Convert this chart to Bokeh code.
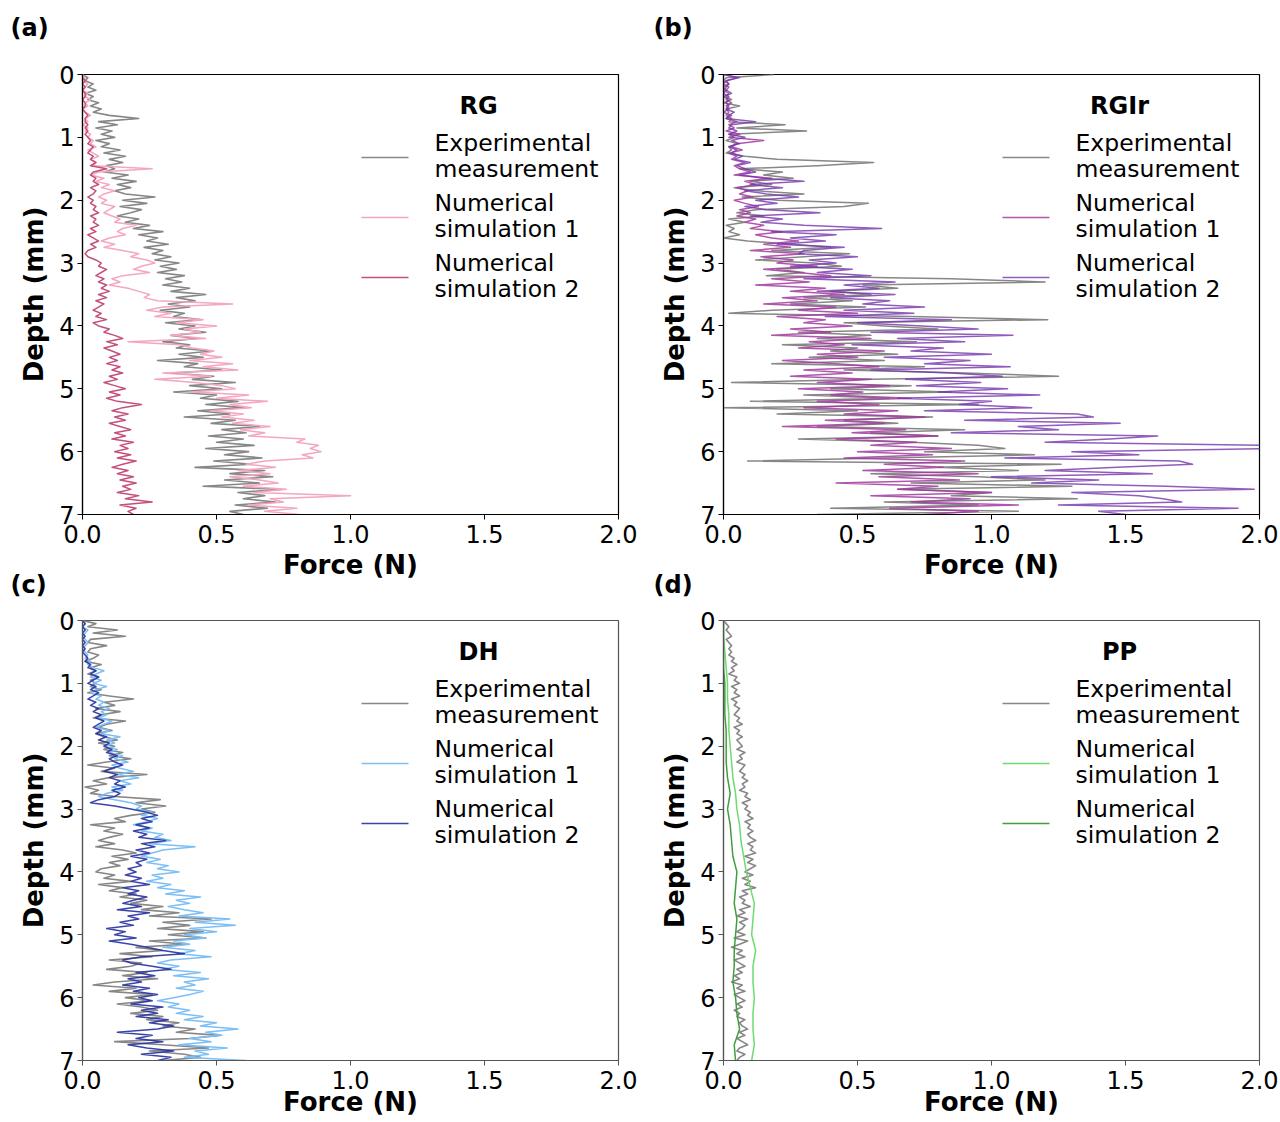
from bokeh.plotting import figure
from bokeh.models import Range1d, FixedTicker, NumeralTickFormatter, Label, Arrow, Title
from bokeh.layouts import column, row
from bokeh.embed import file_html
from bokeh.resources import INLINE

FONT = "DejaVu Sans"

# ---------------- data ----------------
depth = [
    0.00, 0.05, 0.10, 0.15, 0.20, 0.25, 0.30, 0.35, 0.40, 0.45,
    0.50, 0.55, 0.60, 0.65, 0.70, 0.75, 0.80, 0.85, 0.90, 0.95,
    1.00, 1.05, 1.10, 1.15, 1.20, 1.25, 1.30, 1.35, 1.40, 1.45,
    1.50, 1.55, 1.60, 1.65, 1.70, 1.75, 1.80, 1.85, 1.90, 1.95,
    2.00, 2.05, 2.10, 2.15, 2.20, 2.25, 2.30, 2.35, 2.40, 2.45,
    2.50, 2.55, 2.60, 2.65, 2.70, 2.75, 2.80, 2.85, 2.90, 2.95,
    3.00, 3.05, 3.10, 3.15, 3.20, 3.25, 3.30, 3.35, 3.40, 3.45,
    3.50, 3.55, 3.60, 3.65, 3.70, 3.75, 3.80, 3.85, 3.90, 3.95,
    4.00, 4.05, 4.10, 4.15, 4.20, 4.25, 4.30, 4.35, 4.40, 4.45,
    4.50, 4.55, 4.60, 4.65, 4.70, 4.75, 4.80, 4.85, 4.90, 4.95,
    5.00, 5.05, 5.10, 5.15, 5.20, 5.25, 5.30, 5.35, 5.40, 5.45,
    5.50, 5.55, 5.60, 5.65, 5.70, 5.75, 5.80, 5.85, 5.90, 5.95,
    6.00, 6.05, 6.10, 6.15, 6.20, 6.25, 6.30, 6.35, 6.40, 6.45,
    6.50, 6.55, 6.60, 6.65, 6.70, 6.75, 6.80, 6.85, 6.90, 6.95,
    7.00,
]
depth_coarse = [
    0.00, 0.25, 0.50, 0.75, 1.00, 1.25, 1.50, 1.75, 2.00, 2.25,
    2.50, 2.75, 3.00, 3.25, 3.50, 3.75, 4.00, 4.25, 4.50, 4.75,
    5.00, 5.25, 5.50, 5.75, 6.00, 6.25, 6.50, 6.75, 7.00,
]

# (a) RG
rg_exp = [
    0.00, 0.02, 0.01, 0.04, 0.02, 0.05, 0.01, 0.04, 0.02, 0.06,
    0.03, 0.07, 0.04, 0.10, 0.21, 0.06, 0.13, 0.05, 0.11, 0.07,
    0.12, 0.05, 0.10, 0.07, 0.14, 0.08, 0.16, 0.10, 0.15, 0.09,
    0.12, 0.08, 0.17, 0.11, 0.20, 0.13, 0.18, 0.12, 0.16, 0.27,
    0.15, 0.24, 0.14, 0.22, 0.18, 0.13, 0.21, 0.16, 0.25, 0.19,
    0.30, 0.21, 0.28, 0.24, 0.32, 0.23, 0.30, 0.26, 0.33, 0.27,
    0.36, 0.29, 0.35, 0.28, 0.38, 0.31, 0.37, 0.30, 0.40, 0.33,
    0.46, 0.35, 0.42, 0.32, 0.40, 0.29, 0.38, 0.34, 0.44, 0.31,
    0.42, 0.36, 0.46, 0.33, 0.43, 0.30, 0.40, 0.35, 0.48, 0.36,
    0.45, 0.28, 0.43, 0.38, 0.52, 0.33, 0.49, 0.41, 0.57, 0.40,
    0.52, 0.34, 0.50, 0.44, 0.58, 0.46, 0.60, 0.43, 0.55, 0.38,
    0.57, 0.48, 0.66, 0.52, 0.61, 0.47, 0.60, 0.50, 0.64, 0.46,
    0.62, 0.53, 0.67, 0.49, 0.63, 0.42, 0.68, 0.55, 0.71, 0.53,
    0.66, 0.45, 0.74, 0.58, 0.68, 0.60, 0.72, 0.57, 0.69, 0.55,
    0.60,
]
rg_sim1 = [
    0.00, 0.01, 0.00, 0.02, 0.01, 0.00, 0.02, 0.01, 0.03, 0.01,
    0.02, 0.00, 0.01, 0.03, 0.01, 0.02, 0.00, 0.02, 0.01, 0.03,
    0.02, 0.04, 0.03, 0.05, 0.02, 0.04, 0.06, 0.03, 0.05, 0.04,
    0.26, 0.06, 0.03, 0.08, 0.05, 0.10, 0.07, 0.12, 0.08, 0.06,
    0.09, 0.07, 0.12, 0.10, 0.08, 0.11, 0.14, 0.12, 0.20, 0.15,
    0.13, 0.16, 0.10, 0.07, 0.12, 0.08, 0.15, 0.21, 0.18, 0.24,
    0.27, 0.22, 0.19, 0.25, 0.15, 0.11, 0.14, 0.10, 0.17, 0.21,
    0.25, 0.23, 0.28, 0.56, 0.30, 0.24, 0.33, 0.27, 0.45, 0.35,
    0.50, 0.38, 0.44, 0.33, 0.46, 0.17, 0.36, 0.41, 0.49, 0.44,
    0.52, 0.40, 0.56, 0.45, 0.58, 0.30, 0.48, 0.27, 0.42, 0.52,
    0.57, 0.41, 0.62, 0.50, 0.69, 0.55, 0.63, 0.48, 0.60, 0.52,
    0.64, 0.56, 0.70, 0.59, 0.68, 0.62, 0.83, 0.80, 0.88, 0.85,
    0.89, 0.82, 0.86, 0.68, 0.61, 0.72, 0.58, 0.70, 0.55, 0.66,
    0.73, 0.60, 0.76, 0.64, 1.00, 0.70, 0.75, 0.62, 0.80, 0.68,
    0.81,
]
rg_sim2 = [
    0.00, 0.00, 0.01, 0.00, 0.01, 0.00, 0.01, 0.01, 0.00, 0.01,
    0.01, 0.00, 0.01, 0.02, 0.01, 0.01, 0.02, 0.01, 0.02, 0.01,
    0.02, 0.03, 0.02, 0.04, 0.03, 0.02, 0.04, 0.03, 0.05, 0.03,
    0.09, 0.04, 0.03, 0.05, 0.04, 0.06, 0.03, 0.05, 0.04, 0.02,
    0.04, 0.03, 0.05, 0.04, 0.06, 0.03, 0.05, 0.04, 0.06, 0.03,
    0.05, 0.02, 0.04, 0.06, 0.03, 0.05, 0.02, 0.01, 0.02, 0.05,
    0.07, 0.06, 0.09, 0.07, 0.05, 0.08, 0.06, 0.09, 0.07, 0.10,
    0.06, 0.09, 0.05, 0.08, 0.06, 0.04, 0.07, 0.05, 0.09, 0.04,
    0.06, 0.10, 0.08, 0.12, 0.15, 0.09, 0.13, 0.08, 0.11, 0.14,
    0.10, 0.13, 0.09, 0.14, 0.11, 0.15, 0.10, 0.13, 0.08, 0.12,
    0.16, 0.10, 0.14, 0.09, 0.13, 0.22, 0.15, 0.11, 0.17, 0.12,
    0.16, 0.10, 0.14, 0.18, 0.12, 0.16, 0.11, 0.19, 0.14, 0.17,
    0.12, 0.18, 0.13, 0.20, 0.15, 0.11, 0.17, 0.13, 0.19, 0.14,
    0.20, 0.15, 0.18, 0.13, 0.21, 0.16, 0.26, 0.14, 0.20, 0.17,
    0.19,
]

# (b) RGIr
rgir_exp = [
    0.19, 0.01, 0.00, 0.02, 0.01, 0.00, 0.02, 0.01, 0.03, 0.00,
    0.06, 0.01, 0.02, 0.01, 0.03, 0.02, 0.23, 0.05, 0.31, 0.02,
    0.04, 0.01, 0.05, 0.02, 0.03, 0.01, 0.08, 0.20, 0.56, 0.35,
    0.06, 0.22, 0.15, 0.26, 0.10, 0.18, 0.04, 0.12, 0.30, 0.07,
    0.20, 0.54, 0.45, 0.12, 0.05, 0.15, 0.02, 0.08, 0.01, 0.04,
    0.02, 0.06, 0.00, 0.09, 0.26, 0.40, 0.18, 0.47, 0.30, 0.12,
    0.34, 0.44, 0.20, 0.30, 0.16, 0.85, 1.20, 0.52, 0.65, 0.40,
    0.55, 0.30, 0.48, 0.25, 0.53, 0.18, 0.02, 0.70, 1.21, 0.45,
    0.60, 0.80, 0.28, 0.55, 0.35, 0.72, 0.22, 0.50, 0.40, 0.65,
    0.32, 0.60, 0.18, 0.75, 0.45, 0.90, 1.25, 0.55, 0.03, 0.70,
    0.40, 0.85, 0.30, 0.62, 0.10, 0.95, 0.00, 0.50, 0.20, 0.78,
    0.45, 0.65, 0.35, 0.90, 0.55, 0.80, 0.28, 0.70, 0.95, 1.05,
    0.75, 1.16, 0.60, 0.09, 1.26, 0.80, 1.10, 0.55, 0.95, 1.20,
    0.70, 1.30, 0.65, 1.00, 0.85, 1.32, 0.60, 0.95, 0.40, 1.10,
    0.35,
]
rgir_sim1 = [
    0.00, 0.05, 0.01, 0.00, 0.02, 0.01, 0.00, 0.02, 0.01, 0.03,
    0.01, 0.02, 0.00, 0.03, 0.01, 0.05, 0.02, 0.04, 0.01, 0.06,
    0.02, 0.15, 0.05, 0.03, 0.07, 0.02, 0.05, 0.03, 0.08, 0.04,
    0.06, 0.10, 0.04, 0.18, 0.08, 0.12, 0.05, 0.09, 0.06, 0.11,
    0.04, 0.08, 0.13, 0.06, 0.10, 0.05, 0.12, 0.08, 0.15, 0.10,
    0.22, 0.12, 0.18, 0.28, 0.15, 0.25, 0.10, 0.30, 0.14, 0.26,
    0.20, 0.35, 0.15, 0.28, 0.40, 0.18, 0.32, 0.12, 0.38, 0.25,
    0.45, 0.22, 0.35, 0.15, 0.42, 0.28, 0.50, 0.20, 0.38, 0.30,
    0.48, 0.25, 0.40, 0.18, 0.55, 0.32, 0.45, 0.28, 0.60, 0.35,
    0.50, 0.22, 0.42, 0.58, 0.30, 0.48, 0.25, 0.55, 0.35, 0.62,
    0.28, 0.52, 0.40, 0.70, 0.35, 0.58, 0.30, 0.65, 0.45, 0.75,
    0.38, 0.60, 0.22, 0.68, 0.48, 0.80, 0.42, 0.72, 0.55, 0.85,
    0.50, 0.78, 0.45, 0.90, 0.60, 0.82, 0.52, 0.95, 0.58, 0.88,
    0.42, 0.80, 0.65, 1.00, 0.55, 0.92, 0.70, 1.10, 0.62, 0.95,
    0.75,
]
rgir_sim2 = [
    0.00, 0.06, 0.01, 0.02, 0.00, 0.01, 0.03, 0.00, 0.02, 0.01,
    0.02, 0.01, 0.04, 0.02, 0.01, 0.12, 0.03, 0.02, 0.05, 0.02,
    0.08, 0.03, 0.06, 0.02, 0.05, 0.03, 0.07, 0.04, 0.10, 0.05,
    0.08, 0.12, 0.06, 0.15, 0.30, 0.10, 0.22, 0.08, 0.16, 0.28,
    0.12, 0.20, 0.08, 0.16, 0.36, 0.10, 0.22, 0.14, 0.30, 0.59,
    0.18, 0.42, 0.25, 0.38, 0.20, 0.45, 0.30, 0.28, 0.50, 0.32,
    0.42, 0.25, 0.48, 0.35, 0.55, 0.30, 0.64, 0.45, 0.58, 0.35,
    0.64, 0.40, 0.62, 0.52, 0.75, 0.45, 0.71, 0.38, 0.85, 0.50,
    0.74, 0.95, 0.55, 1.08, 0.65, 0.90, 0.48, 0.82, 0.70, 1.00,
    0.60, 0.92, 0.75, 1.07, 0.55, 0.85, 1.04, 0.68, 0.96, 0.72,
    1.06, 0.80, 1.18, 0.65, 1.00, 0.88, 1.15, 0.75, 1.32, 1.38,
    0.90, 1.48, 1.10, 1.25, 0.85, 1.62, 1.44, 1.20, 2.05, 2.05,
    1.30, 1.55, 1.05, 1.70, 1.75, 1.47, 1.20, 1.60, 1.00, 1.40,
    1.15, 1.65, 1.98, 1.30, 1.55, 1.64, 1.71, 1.25, 1.92, 1.40,
    1.50,
]

# (c) DH
dh_exp = [
    0.00, 0.05, 0.02, 0.13, 0.04, 0.16, 0.03, 0.02, 0.09, 0.03,
    0.02, 0.06, 0.04, 0.01, 0.07, 0.03, 0.05, 0.02, 0.06, 0.03,
    0.05, 0.03, 0.07, 0.02, 0.10, 0.19, 0.08, 0.12, 0.05, 0.14,
    0.07, 0.04, 0.16, 0.09, 0.06, 0.11, 0.05, 0.08, 0.13, 0.06,
    0.12, 0.08, 0.15, 0.10, 0.18, 0.09, 0.02, 0.12, 0.07, 0.24,
    0.10, 0.04, 0.09, 0.01, 0.06, 0.03, 0.12, 0.29, 0.20, 0.31,
    0.22, 0.27, 0.18, 0.12, 0.16, 0.03, 0.12, 0.08, 0.15, 0.10,
    0.06, 0.12, 0.05, 0.15, 0.20, 0.11, 0.17, 0.10, 0.14, 0.07,
    0.05, 0.12, 0.08, 0.18, 0.06, 0.15, 0.10, 0.20, 0.14, 0.24,
    0.18, 0.30, 0.22, 0.36, 0.25, 0.48, 0.30, 0.40, 0.28, 0.45,
    0.32, 0.46, 0.25, 0.38, 0.20, 0.30, 0.14, 0.26, 0.10, 0.22,
    0.18, 0.09, 0.24, 0.15, 0.28, 0.12, 0.04, 0.20, 0.10, 0.26,
    0.16, 0.25, 0.13, 0.22, 0.28, 0.18, 0.30, 0.24, 0.36, 0.30,
    0.42, 0.35, 0.51, 0.40, 0.12, 0.30, 0.47, 0.25, 0.38, 0.44,
    0.30,
]
dh_sim1 = [
    0.00, 0.01, 0.00, 0.02, 0.01, 0.00, 0.01, 0.02, 0.01, 0.00,
    0.01, 0.02, 0.01, 0.03, 0.02, 0.04, 0.08, 0.05, 0.03, 0.07,
    0.04, 0.09, 0.05, 0.03, 0.07, 0.05, 0.08, 0.06, 0.10, 0.07,
    0.09, 0.06, 0.11, 0.08, 0.05, 0.10, 0.07, 0.14, 0.09, 0.12,
    0.08, 0.13, 0.10, 0.15, 0.12, 0.17, 0.11, 0.14, 0.19, 0.13,
    0.21, 0.14, 0.18, 0.11, 0.15, 0.09, 0.06, 0.12, 0.18, 0.22,
    0.20, 0.26, 0.22, 0.28, 0.24, 0.19, 0.26, 0.22, 0.30, 0.27,
    0.33, 0.25, 0.42, 0.30, 0.26, 0.22, 0.29, 0.24, 0.32, 0.28,
    0.36, 0.26, 0.30, 0.24, 0.33, 0.28, 0.38, 0.31, 0.44, 0.35,
    0.40, 0.32, 0.38, 0.45, 0.36, 0.55, 0.42, 0.57, 0.40, 0.50,
    0.38, 0.46, 0.34, 0.40, 0.30, 0.42, 0.36, 0.48, 0.33, 0.28,
    0.36, 0.30, 0.44, 0.34, 0.47, 0.38, 0.42, 0.35, 0.45, 0.40,
    0.34, 0.28, 0.36, 0.32, 0.40, 0.35, 0.45, 0.38, 0.50, 0.44,
    0.58, 0.46, 0.52, 0.40, 0.48, 0.36, 0.54, 0.42, 0.47, 0.38,
    0.61,
]
dh_sim2 = [
    0.00, 0.01, 0.00, 0.01, 0.00, 0.01, 0.00, 0.01, 0.00, 0.01,
    0.00, 0.01, 0.02, 0.01, 0.03, 0.02, 0.05, 0.03, 0.06, 0.04,
    0.02, 0.05, 0.03, 0.06, 0.04, 0.02, 0.05, 0.03, 0.06, 0.04,
    0.07, 0.05, 0.08, 0.06, 0.04, 0.07, 0.05, 0.09, 0.06, 0.10,
    0.08, 0.11, 0.09, 0.13, 0.10, 0.12, 0.15, 0.11, 0.08, 0.13,
    0.10, 0.14, 0.12, 0.16, 0.11, 0.14, 0.12, 0.06, 0.03, 0.12,
    0.18, 0.24, 0.28, 0.22, 0.26, 0.20, 0.25, 0.19, 0.24, 0.21,
    0.31, 0.22, 0.27, 0.20, 0.25, 0.18, 0.24, 0.20, 0.22, 0.17,
    0.20, 0.16, 0.22, 0.18, 0.25, 0.15, 0.21, 0.17, 0.24, 0.19,
    0.15, 0.22, 0.13, 0.25, 0.17, 0.21, 0.14, 0.19, 0.09, 0.16,
    0.12, 0.20, 0.10, 0.18, 0.24, 0.30, 0.38, 0.22, 0.15, 0.18,
    0.26, 0.33, 0.20, 0.27, 0.17, 0.22, 0.15, 0.25, 0.19, 0.28,
    0.21, 0.26, 0.18, 0.30, 0.22, 0.28, 0.20, 0.32, 0.25, 0.34,
    0.28, 0.13, 0.26, 0.20, 0.30, 0.17, 0.24, 0.34, 0.22, 0.33,
    0.28,
]

# (d) PP
pp_exp = [
    0.00, 0.01, 0.02, 0.01, 0.02, 0.03, 0.01, 0.02, 0.03, 0.02,
    0.03, 0.02, 0.04, 0.03, 0.05, 0.03, 0.04, 0.02, 0.05, 0.04,
    0.06, 0.03, 0.05, 0.04, 0.06, 0.03, 0.05, 0.04, 0.06, 0.05,
    0.04, 0.06, 0.05, 0.07, 0.04, 0.06, 0.05, 0.07, 0.05, 0.06,
    0.07, 0.05, 0.08, 0.06, 0.07, 0.05, 0.08, 0.07, 0.06, 0.08,
    0.07, 0.09, 0.07, 0.08, 0.06, 0.09, 0.08, 0.10, 0.07, 0.09,
    0.08, 0.10, 0.09, 0.11, 0.08, 0.10, 0.09, 0.11, 0.09, 0.10,
    0.12, 0.09, 0.11, 0.10, 0.12, 0.08, 0.11, 0.09, 0.12, 0.10,
    0.08, 0.11, 0.07, 0.10, 0.08, 0.12, 0.07, 0.09, 0.06, 0.08,
    0.07, 0.10, 0.06, 0.08, 0.05, 0.09, 0.06, 0.08, 0.07, 0.05,
    0.08, 0.04, 0.09, 0.06, 0.03, 0.07, 0.05, 0.08, 0.04, 0.06,
    0.08, 0.05, 0.07, 0.04, 0.06, 0.03, 0.07, 0.05, 0.08, 0.04,
    0.06, 0.08, 0.05, 0.07, 0.04, 0.06, 0.05, 0.08, 0.06, 0.07,
    0.09, 0.06, 0.08, 0.05, 0.07, 0.09, 0.06, 0.05, 0.08, 0.06,
    0.05,
]
pp_sim1 = [
    0.00, 0.00, 0.005, 0.01, 0.015, 0.015, 0.02, 0.02, 0.025, 0.03,
    0.035, 0.045, 0.05, 0.06, 0.065, 0.075, 0.085, 0.10, 0.115, 0.11,
    0.105, 0.12, 0.11, 0.11, 0.115, 0.11, 0.11, 0.115, 0.105,
]
pp_sim2 = [
    0.00, 0.00, 0.00, 0.00, 0.005, 0.005, 0.005, 0.01, 0.01, 0.01,
    0.015, 0.025, 0.015, 0.025, 0.03, 0.035, 0.05, 0.045, 0.04, 0.05,
    0.045, 0.04, 0.04, 0.035, 0.045, 0.05, 0.06, 0.04, 0.045,
]

x_ticks = [0.0, 0.5, 1.0, 1.5, 2.0]
y_ticks = [0, 1, 2, 3, 4, 5, 6, 7]
legend_lines = [("Experimental", "measurement"),
                ("Numerical", "simulation 1"),
                ("Numerical", "simulation 2")]

GRAY = "#878787"

TICK_PX = "24px"
LABEL_PX = "26px"
LEGEND_PX = "23.5px"


def make_panel(letter, title, series, width, height, left, top, bottom, right,
               letter_offset, spacer_standoff, axis_color, xlabel_standoff,
               border_fill):
    p = figure(width=width, height=height,
               x_range=Range1d(0, 2), y_range=Range1d(7, 0),
               output_backend="svg", toolbar_location=None,
               min_border_left=left, min_border_right=right,
               min_border_top=top, min_border_bottom=bottom)
    p.background_fill_color = "white"
    p.border_fill_color = border_fill
    p.grid.visible = False
    p.outline_line_color = axis_color
    p.outline_line_width = 1.2
    p.outline_line_alpha = 1.0

    p.xaxis.ticker = FixedTicker(ticks=x_ticks)
    p.xaxis.formatter = NumeralTickFormatter(format="0.0")
    p.yaxis.ticker = FixedTicker(ticks=y_ticks)
    for ax in (p.xaxis[0], p.yaxis[0]):
        ax.axis_line_color = axis_color
        ax.axis_line_width = 1.2
        ax.major_tick_line_color = axis_color
        ax.major_tick_in = 0
        ax.major_tick_out = 5
        ax.minor_tick_line_color = None
        ax.major_label_text_font = FONT
        ax.major_label_text_font_size = TICK_PX
        ax.major_label_text_color = "black"
        ax.axis_label_text_font = FONT
        ax.axis_label_text_font_style = "bold"
        ax.axis_label_text_font_size = LABEL_PX
        ax.axis_label_text_color = "black"
    p.yaxis.major_label_standoff = 3
    p.yaxis.axis_label = "Depth (mm)"
    p.yaxis.axis_label_standoff = 7
    p.xaxis.major_label_standoff = 5
    p.xaxis.axis_label = "Force (N)"
    p.xaxis.axis_label_standoff = xlabel_standoff

    for xs, ys, color, lw, alpha in series:
        p.line(xs, ys, line_color=color, line_width=lw, line_alpha=alpha,
               line_join="round")

    # panel letter: a spacer title next to the frame, the letter above it
    p.add_layout(Title(text=" ", text_font_size="10px", standoff=spacer_standoff,
                       text_color="white"), "above")
    p.add_layout(Title(text=letter, text_font=FONT, text_font_style="bold",
                       text_font_size="24px", align="left", offset=letter_offset,
                       standoff=0, vertical_align="bottom",
                       text_color="black"), "above")

    # legend (title + line samples + two-line labels)
    p.add_layout(Label(x=396, y=409, x_units="screen", y_units="screen",
                       text=title, text_font=FONT, text_font_style="bold",
                       text_font_size="24px", text_align="center",
                       text_baseline="middle", text_color="black"))
    for k, ((l1, l2), (_, _, color, lw, alpha)) in enumerate(zip(legend_lines, series)):
        yc = 357 - 60 * k
        p.add_layout(Arrow(end=None, x_start=279, y_start=yc, x_end=326, y_end=yc,
                           start_units="screen", end_units="screen",
                           line_color=color, line_width=1.5, line_alpha=alpha))
        for txt, dy in ((l1, 15), (l2, -11)):
            p.add_layout(Label(x=352, y=yc + dy, x_units="screen", y_units="screen",
                               text=txt, text_font=FONT, text_font_size=LEGEND_PX,
                               text_align="left", text_baseline="middle",
                               text_color="black"))
    return p


# top row: frame 74..514, full x-axis space below (ends at 586)
pa = make_panel("(a)", "RG", [
    (rg_exp, depth, GRAY, 1.6, 1.0),
    (rg_sim1, depth, "#F4A6C2", 1.5, 1.0),
    (rg_sim2, depth, "#C4507D", 1.5, 1.0),
], 649, 586, 82, 74, 72, 31, -72, 20, "black", 4, "white")

pb = make_panel("(b)", "RGIr", [
    (rgir_exp, depth, GRAY, 1.5, 1.0),
    (rgir_sim1, depth, "#A0399F", 1.5, 0.85),
    (rgir_sim2, depth, "#7435AC", 1.5, 0.8),
], 631, 586, 74, 74, 72, 21, -70, 20, "black", 4, "white")

# bottom row: pulled up 18px (transparent border), frame 620..1060
pc = make_panel("(c)", "DH", [
    (dh_exp, depth, GRAY, 1.6, 1.0),
    (dh_sim1, depth, "#7DBEF5", 1.5, 1.0),
    (dh_sim2, depth, "#26319E", 1.5, 0.9),
], 649, 554, 82, 52, 62, 31, -72, 9, "#555555", -5, None)

pd_ = make_panel("(d)", "PP", [
    (pp_exp, depth, GRAY, 1.6, 1.0),
    (pp_sim1, depth_coarse, "#6EDC6E", 1.5, 1.0),
    (pp_sim2, depth_coarse, "#3F9F3F", 1.5, 1.0),
], 631, 554, 74, 52, 62, 21, -70, 9, "#555555", -5, None)

layout = column(row(pa, pb), row(pc, pd_, margin=(-18, 0, 0, 0)))
open("out.html", "w").write(file_html(layout, INLINE))
